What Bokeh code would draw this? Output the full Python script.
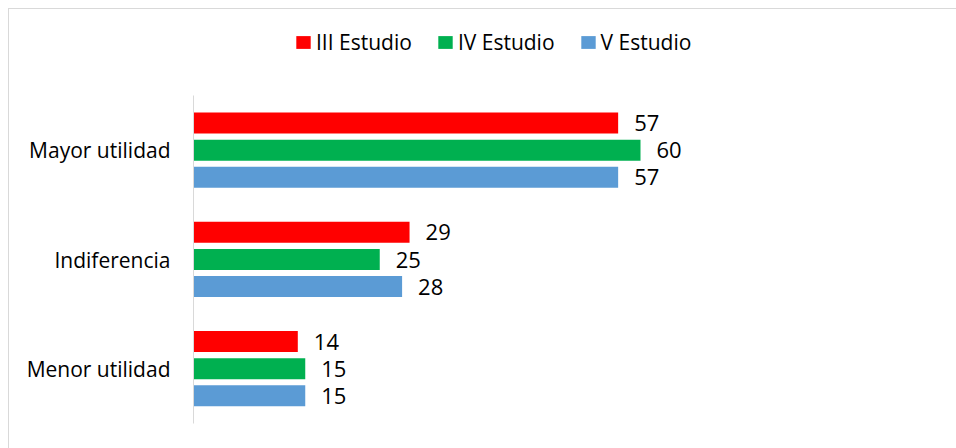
from bokeh.plotting import figure
from bokeh.models import ColumnDataSource, Range1d, LabelSet, Legend, LegendItem, FixedTicker
from bokeh.core.properties import value
from bokeh.embed import file_html
from bokeh.resources import INLINE

categories = ["Mayor utilidad", "Indiferencia", "Menor utilidad"]
series_names = ["III Estudio", "IV Estudio", "V Estudio"]
iii_estudio = [57, 29, 14]
iv_estudio = [60, 25, 15]
v_estudio = [57, 28, 15]
colors = ["#FF0000", "#00B050", "#5B9BD5"]

FONT = "Open Sans"
n = len(categories)
cat_pos = [n - i - 0.5 for i in range(n)]

p = figure(
    width=956, height=448,
    y_range=Range1d(0, 3.796),
    x_range=Range1d(0, 100),
    x_axis_location=None,
    output_backend="svg", toolbar_location=None,
    min_border_left=193, min_border_top=8, min_border_bottom=25, min_border_right=18,
)
p.outline_line_color = None
p.xgrid.grid_line_color = None
p.ygrid.grid_line_color = None
p.border_fill_alpha = 0
p.background_fill_alpha = 0
p.styles = {"box-shadow": "inset 8px 8px 0 0 #ffffff, inset 9px 9px 0 0 #d9d9d9"}

offsets = [0.249, 0.0, -0.247]
renderers = []
for name, vals, col, off in zip(series_names, [iii_estudio, iv_estudio, v_estudio], colors, offsets):
    src = ColumnDataSource(dict(cat=categories, y=[c + off for c in cat_pos], val=vals,
                                txt=[str(v) for v in vals]))
    r = p.hbar(y="y", left=0, right="val", height=0.192,
               source=src, fill_color=col, line_color=None)
    renderers.append(r)
    labels = LabelSet(x="val", y="y", text="txt", source=src,
                      x_offset=16, text_baseline="middle", text_font_size=value("22px"),
                      text_font=value(FONT), text_color="#000000")
    p.add_layout(labels)

yax = p.yaxis[0]
yax.ticker = FixedTicker(ticks=cat_pos)
yax.major_label_overrides = {c: lab for c, lab in zip(cat_pos, categories)}
yax.bounds = (0, n)
yax.axis_line_color = "#d9d9d9"
yax.axis_line_width = 1
yax.major_tick_line_color = None
yax.minor_tick_line_color = None
yax.major_label_text_font = FONT
yax.major_label_text_font_size = "21px"
yax.major_label_text_color = "#000000"
yax.major_label_standoff = 17

legend = Legend(
    items=[LegendItem(label=s, renderers=[r]) for s, r in zip(series_names, renderers)],
    orientation="horizontal", location=(101, 367),
    glyph_width=18, glyph_height=16, label_standoff=4, spacing=24,
    padding=0, margin=0, border_line_color=None, background_fill_alpha=0,
    label_text_font=FONT, label_text_font_size="21px", label_text_color="#000000",
)
p.add_layout(legend)

open("out.html", "w").write(file_html(p, INLINE))
